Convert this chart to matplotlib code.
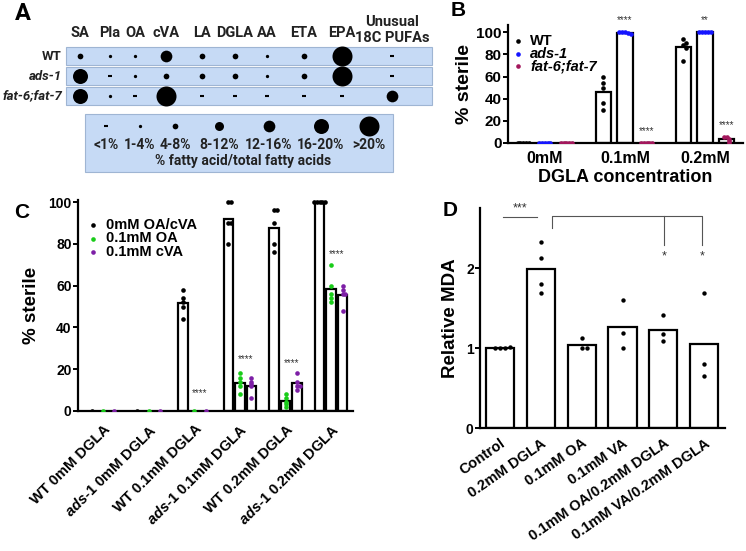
import numpy as np
import matplotlib
matplotlib.use('Agg')
import matplotlib.pyplot as plt
from matplotlib.patches import Rectangle

plt.rcParams['font.family'] = 'Liberation Sans'
plt.rcParams['font.weight'] = 'bold'
plt.rcParams['axes.labelweight'] = 'bold'
plt.rcParams['mathtext.fontset'] = 'custom'
plt.rcParams['mathtext.it'] = 'Liberation Sans:italic:bold'
plt.rcParams['mathtext.rm'] = 'Liberation Sans:bold'

# ---- panel A: fatty acid composition (size class index, 0 = <1%)
fatty_acids = ['SA', 'Pla', 'OA', 'cVA', 'LA', 'DGLA', 'AA', 'ETA', 'EPA', 'Unusual\n18C PUFAs']
strains_a = ['WT', 'ads-1', 'fat-6;fat-7']
wt_cat = [2, 1, 1, 4, 2, 2, 1, 2, 6, 0]
ads1_cat = [5, 0, 1, 2, 2, 2, 1, 2, 6, 0]
fat67_cat = [5, 1, 0, 6, 0, 0, 0, 0, 0, 4]
size_bins = ['<1%', '1-4%', '4-8%', '8-12%', '12-16%', '16-20%', '>20%']

# ---- panel B: % sterile vs DGLA
conc_b = ['0mM', '0.1mM', '0.2mM']
b_wt = [[0, 0, 0, 0, 0], [60, 54, 50, 36, 30], [94, 88, 90, 86, 74]]
b_ads1 = [[0, 0, 0, 0, 0], [100, 99, 100, 98, 100], [100, 100, 100, 100, 100]]
b_fat = [[0, 0, 0, 0, 0], [0, 0, 0, 0, 0], [5, 4, 2, 0, 5]]
b_names = ['WT', 'ads-1', 'fat-6;fat-7']
b_stars = {(1, 1): '****', (1, 2): '****', (2, 1): '**', (2, 2): '****'}

# ---- panel C: rescue by OA / cVA
c_labels = ['WT 0mM DGLA', r'$\it{ads}$-$\it{1}$ 0mM DGLA', 'WT 0.1mM DGLA',
            r'$\it{ads}$-$\it{1}$ 0.1mM DGLA', 'WT 0.2mM DGLA', r'$\it{ads}$-$\it{1}$ 0.2mM DGLA']
c_none = [[0], [0], [58, 54, 52, 50, 44], [100, 100, 90, 90, 80], [96, 96, 90, 80, 76], [100, 100, 100, 100, 100]]
c_oa = [[0], [0], [0], [18, 16, 14, 12, 8], [8, 6, 4.5, 3.5, 2], [70, 60, 56, 54, 52]]
c_cva = [[0], [0], [0], [16, 14, 13, 12, 6], [18, 14, 12, 12, 10], [60, 58, 56, 56, 48]]
c_names = ['0mM OA/cVA', '0.1mM OA', '0.1mM cVA']
c_stars = [8.7, 25, 23, 75]

# ---- panel D: relative MDA
d_labels = ['Control', '0.2mM DGLA', '0.1mM OA', '0.1mM VA', '0.1mM OA/0.2mM DGLA', '0.1mM VA/0.2mM DGLA']
d_vals = [[1.0, 1.0, 1.0, 1.01], [2.32, 2.12, 1.80, 1.69], [1.12, 1.0, 1.0],
          [1.60, 1.19, 1.0], [1.41, 1.18, 1.09], [1.69, 0.80, 0.65]]

W, H = 746, 551
fig = plt.figure(figsize=(W / 100, H / 100), dpi=100)


def px(l, t, r, b):
    return [l / W, 1 - b / H, (r - l) / W, (b - t) / H]


def swarm(vals, tol, step):
    offs = np.zeros(len(vals))
    seen = []
    for i, v in enumerate(vals):
        n = sum(abs(v - s) < tol for s in seen)
        offs[i] = step * ((n + 1) // 2) * (1 if n % 2 else -1)
        seen.append(v)
    return offs


def style_axes(ax, fs):
    for s in ['top', 'right']:
        ax.spines[s].set_visible(False)
    for s in ['left', 'bottom']:
        ax.spines[s].set_linewidth(1.6)
    ax.tick_params(axis='y', length=3.5, width=1.4, labelsize=fs, pad=1)
    ax.tick_params(axis='x', length=0)
    ax.set_facecolor('none')


# overlay in pixel coordinates for panel A and panel letters
ov = fig.add_axes([0, 0, 1, 1])
ov.set_xlim(0, W)
ov.set_ylim(H, 0)
ov.axis('off')

fa = 'Roboto'
col_x = [80, 110, 135, 166, 202, 235, 267, 304, 342, 392]
row_y = [56, 76, 96]
dot_px = [0, 3.3, 5.7, 9, 11.7, 15, 20]


def fa_symbol(x, y, k):
    if k == 0:
        ov.plot([x - 2.2, x + 2.2], [y, y], color='black', lw=1.5, solid_capstyle='butt')
    else:
        ov.scatter([x], [y], s=(dot_px[k] * 0.72) ** 2, color='black', linewidths=0)


for j, name in enumerate(fatty_acids):
    yy = 33 if '\n' not in name else 30
    ov.text(col_x[j], yy, name, ha='center', va='center', fontsize=10.5, family=fa,
            weight='bold', color='#222', linespacing=1.15)
for r, cats in enumerate([wt_cat, ads1_cat, fat67_cat]):
    ov.add_patch(Rectangle((66, row_y[r] - 9), 366, 18, fc='#c6daf5', ec='#9fb5d3', lw=0.8))
    ov.text(62, row_y[r], strains_a[r], ha='right', va='center', fontsize=9.5, family=fa,
            weight='bold', style='normal' if r == 0 else 'italic', color='#222')
    for c, k in enumerate(cats):
        fa_symbol(col_x[c], row_y[r], k)

ov.add_patch(Rectangle((85, 114), 308, 58, fc='#c6daf5', ec='#9fb5d3', lw=0.8))
leg_x = [106, 140, 175, 219, 269, 321, 369]
for k, lab in enumerate(size_bins):
    fa_symbol(leg_x[k], 126, k)
    ov.text(leg_x[k], 145, lab, ha='center', va='center', fontsize=10, family=fa,
            weight='bold', color='#222')
ov.text(243, 161, '% fatty acid/total fatty acids', ha='center', va='center',
        fontsize=10, family=fa, weight='bold', color='#222')

ov.text(23, 13, 'A', ha='center', va='center', fontsize=17, family=fa, weight='bold')
ov.text(458, 10, 'B', ha='center', va='center', fontsize=15, weight='bold')
ov.text(22, 212, 'C', ha='center', va='center', fontsize=15, weight='bold')
ov.text(450, 210, 'D', ha='center', va='center', fontsize=15, weight='bold')

# ---- panel B
axB = fig.add_axes(px(508, 25, 743, 143))
style_axes(axB, 11)
b_cols = ['black', '#1414ff', '#a3175c']
b_off = [-0.27, 0, 0.27]
for s, series in enumerate([b_wt, b_ads1, b_fat]):
    for g, vals in enumerate(series):
        xc = g + b_off[s]
        axB.bar(xc, np.mean(vals), width=0.19, color='white', edgecolor='black', lw=1.6, zorder=1)
        axB.scatter(xc + swarm(vals, 3, 0.035), vals, s=11, color=b_cols[s], linewidths=0, zorder=3)
for (g, s), st in b_stars.items():
    vals = [b_ads1, b_fat][s - 1][g]
    axB.text(g + b_off[s], max(vals) + 11, st, ha='center', va='center', fontsize=7,
             weight='normal', color='#333')
axB.set_xlim(-0.46, 2.475)
axB.set_ylim(0, 106.5)
axB.set_yticks([0, 20, 40, 60, 80, 100])
axB.set_xticks(range(3))
axB.set_xticklabels(conc_b, fontsize=11.5)
axB.tick_params(axis='x', pad=6)
axB.set_ylabel('% sterile', fontsize=14, labelpad=2)
axB.set_xlabel('DGLA concentration', fontsize=13, labelpad=2)
for i, name in enumerate(b_names):
    y = 41 + 12.7 * i
    ov.scatter([518], [y], s=11, color=b_cols[i], linewidths=0)
    ov.text(530, y, name, ha='left', va='center', fontsize=10.5, weight='bold',
            style='normal' if i == 0 else 'italic')

# ---- panel C
axC = fig.add_axes(px(78, 200, 353, 411))
style_axes(axC, 10)
c_cols = ['black', '#19cc19', '#7d1fa6']
c_off = [-0.25, 0, 0.25]
for s, series in enumerate([c_none, c_oa, c_cva]):
    for g, vals in enumerate(series):
        xc = g + c_off[s]
        if np.mean(vals) > 0:
            axC.bar(xc, np.mean(vals), width=0.21, color='white', edgecolor='black', lw=1.6, zorder=1)
        axC.scatter(xc + swarm(vals, 1, 0.06), vals, s=11, color=c_cols[s], linewidths=0, zorder=3)
for g, yv in zip([2, 3, 4, 5], c_stars):
    axC.text(g + 0.125, yv, '****', ha='center', va='center', fontsize=7, weight='normal', color='#333')
axC.set_xlim(-0.55, 5.48)
axC.set_ylim(0, 101)
axC.set_yticks([0, 20, 40, 60, 80, 100])
axC.set_xticks(range(6))
axC.set_xticklabels(c_labels, rotation=45, ha='right', rotation_mode='anchor', fontsize=10.5)
axC.tick_params(axis='x', pad=8)
axC.set_ylabel('% sterile', fontsize=13.5, labelpad=6)
for i, name in enumerate(c_names):
    y = 225 + 13.5 * i
    ov.scatter([93], [y], s=11, color=c_cols[i], linewidths=0)
    ov.text(106, y, name, ha='left', va='center', fontsize=10.5, weight='bold')

# ---- panel D
axD = fig.add_axes(px(480, 208, 725, 428))
style_axes(axD, 10)
for g, vals in enumerate(d_vals):
    axD.bar(g, np.mean(vals), width=0.69, color='white', edgecolor='black', lw=1.6, zorder=1)
    axD.scatter(g + swarm(vals, 0.05, 0.12), vals, s=10, color='black', linewidths=0, zorder=3)
gc = '#555555'
axD.plot([0.07, 0.9], [2.64, 2.64], color=gc, lw=0.8, clip_on=False)
axD.text(0.49, 2.74, '***', ha='center', va='center', fontsize=9, weight='normal', color='#333', clip_on=False)
axD.plot([1.27, 1.27, 4.95, 4.95], [2.5, 2.65, 2.65, 2.29], color=gc, lw=0.8, clip_on=False)
axD.plot([4.02, 4.02], [2.65, 2.29], color=gc, lw=0.8, clip_on=False)
for xs in [4.02, 4.95]:
    axD.text(xs, 2.15, '*', ha='center', va='center', fontsize=9, weight='normal', color='#333')
axD.set_xlim(-0.49, 5.51)
axD.set_ylim(0, 2.75)
axD.set_yticks([0, 1, 2])
axD.set_xticks(range(6))
axD.set_xticklabels(d_labels, rotation=35, ha='right', rotation_mode='anchor', fontsize=10.5)
axD.tick_params(axis='x', pad=6)
axD.set_ylabel('Relative MDA', fontsize=13.5, labelpad=5)

fig.savefig('out.png', dpi=100)
